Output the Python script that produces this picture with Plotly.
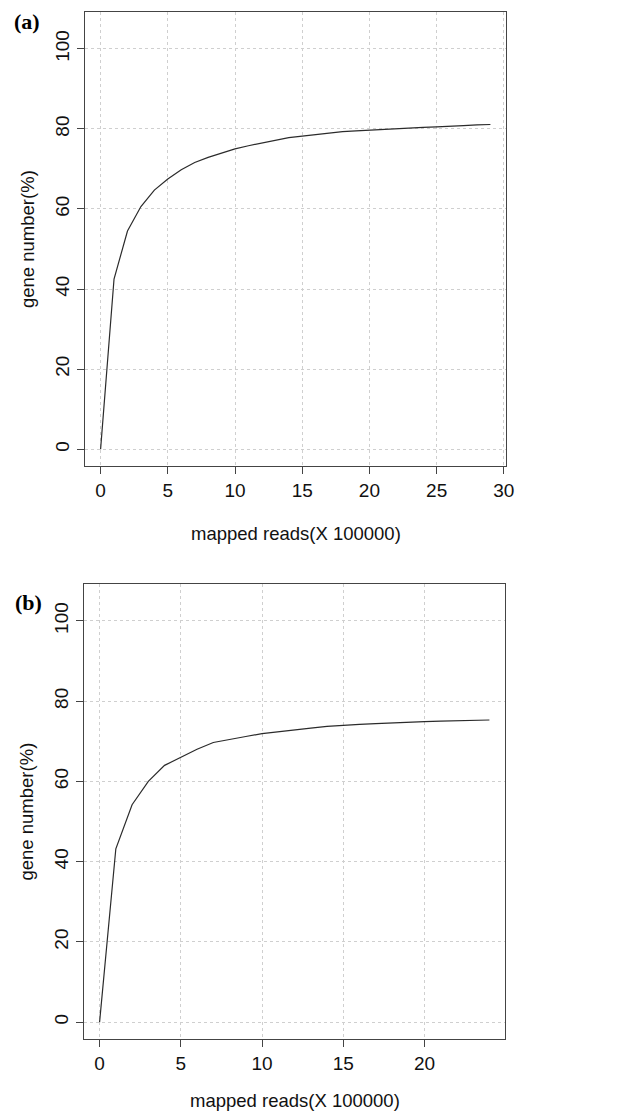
import plotly.graph_objects as go

# Panel (a)
reads_a = list(range(0, 30))
genes_a = [0, 42.5, 54.5, 60.6, 64.7, 67.5, 69.8, 71.6, 72.9, 74.0,
           75.0, 75.8, 76.5, 77.2, 77.8, 78.2, 78.6, 79.0, 79.3, 79.5,
           79.7, 79.9, 80.1, 80.3, 80.4, 80.5, 80.6, 80.8, 81.0, 81.1]
# Panel (b)
reads_b = list(range(0, 25))
genes_b = [0, 43.2, 54.2, 60.0, 64.0, 66.1, 68.0, 69.7, 70.5, 71.2,
           71.9, 72.4, 72.9, 73.3, 73.7, 74.0, 74.2, 74.4, 74.6, 74.8,
           74.9, 75.0, 75.1, 75.2, 75.3]

xticks_a = [0, 5, 10, 15, 20, 25, 30]
xticks_b = [0, 5, 10, 15, 20]
yticks = [0, 20, 40, 60, 80, 100]
panel_labels = ["(a)", "(b)"]
x_title = "mapped reads(X 100000)"
y_title = "gene number(%)"

# page body has an 8px margin; work in window pixels and shift
OFF = 8
W, H = 635 - OFF, 1115 - OFF
fig = go.Figure()
fig.add_trace(go.Scatter(x=reads_a, y=genes_a, mode="lines",
                         line=dict(color="#2b2b2b", width=1.2),
                         xaxis="x", yaxis="y", showlegend=False))
fig.add_trace(go.Scatter(x=reads_b, y=genes_b, mode="lines",
                         line=dict(color="#2b2b2b", width=1.2),
                         xaxis="x2", yaxis="y2", showlegend=False))

tickfont = dict(family="Liberation Sans, Arial, sans-serif", size=19, color="#111111")
common_ax = dict(showline=True, mirror=True, linecolor="#444444", linewidth=1.3,
                 ticks="outside", ticklen=7, tickwidth=1.2, tickcolor="#444444",
                 showgrid=True, gridcolor="#cfcfcf", griddash="dot", gridwidth=1,
                 zeroline=False, tickfont=tickfont)

# margins in figure px (window px minus OFF)
ML, MT = 84 - OFF, 12 - OFF
MR = 635 - 506
MB = 1115 - 1039
plot_h = H - MT - MB
plot_w = W - ML - MR

def ydom(top_px, bot_px):
    top_f, bot_f = top_px - OFF, bot_px - OFF
    return [(H - MB - bot_f) / plot_h, (H - MB - top_f) / plot_h]

def xdom(l_px, r_px):
    return [max(0, (l_px - OFF - ML) / plot_w), min(1, (r_px - OFF - ML) / plot_w)]

ymin_r, ymax_r = -4.2, 109.2
fig.update_layout(
    width=W, height=H,
    margin=dict(l=ML, r=MR, t=MT, b=MB),
    paper_bgcolor="white", plot_bgcolor="white",
    xaxis=dict(domain=xdom(85, 506), anchor="y",
               range=[-0.04 * 29, 29 * 1.04], tickvals=xticks_a, **common_ax),
    yaxis=dict(domain=ydom(12, 466), anchor="x",
               range=[ymin_r, ymax_r], tickvals=yticks, tickangle=-90, **common_ax),
    xaxis2=dict(domain=xdom(84, 505), anchor="y2",
                range=[-0.04 * 24, 24 * 1.04], tickvals=xticks_b, **common_ax),
    yaxis2=dict(domain=ydom(584, 1039), anchor="x2",
                range=[ymin_r, ymax_r], tickvals=yticks, tickangle=-90, **common_ax),
)

title_font = dict(family="Liberation Sans, Arial, sans-serif", size=18.5, color="#111111")
label_font = dict(family="Liberation Serif, Times New Roman, serif", size=22, color="#000000")
for xr, yr, ph, pw, dy in [("x", "y", 454, 421, 67), ("x2", "y2", 455, 421, 61)]:
    fig.add_annotation(text=x_title, xref=xr + " domain", yref=yr + " domain",
                       x=0.5, y=-dy / ph, xanchor="center", yanchor="middle",
                       showarrow=False, font=title_font)
    fig.add_annotation(text=y_title, xref=xr + " domain", yref=yr + " domain",
                       x=-58 / pw, y=0.5, xanchor="center", yanchor="middle",
                       textangle=-90, showarrow=False, font=title_font)

def paper_xy(px, py):
    return (px - OFF - ML) / plot_w, (H - MB - (py - OFF)) / plot_h

for lab, (px, py) in zip(panel_labels, [(27, 22), (29, 602)]):
    xp, yp = paper_xy(px, py)
    fig.add_annotation(text="<b>" + lab + "</b>", xref="paper", yref="paper",
                       x=xp, y=yp, xanchor="center", yanchor="middle",
                       showarrow=False, font=label_font)

fig.write_html("out.html")
